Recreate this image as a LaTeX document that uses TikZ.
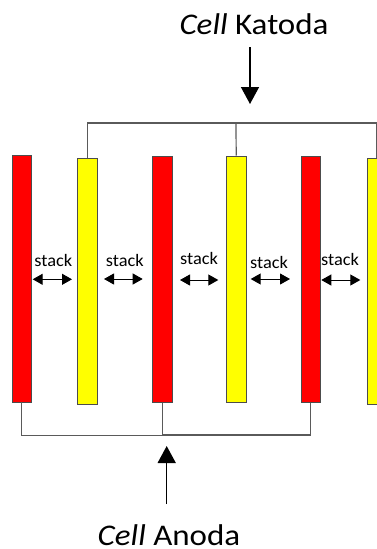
\documentclass[tikz,border=0pt]{standalone}
\usepackage{fontspec}
\setmainfont{Carlito}
\usetikzlibrary{arrows.meta}

\definecolor{platered}{HTML}{FF0000}
\definecolor{plateyellow}{HTML}{FFFF00}
\definecolor{wiregray}{HTML}{5A5A5A}

\newcommand{\widetext}[2]{\scalebox{#1}[1]{#2}}

\tikzset{
  plate/.style={draw=black!70, line width=0.9pt, inner sep=0pt, anchor=north west,
                minimum width=19.5pt, minimum height=246.5pt},
  anode/.style={plate, fill=platered},
  cathode/.style={plate, fill=plateyellow},
  wire/.style={draw=wiregray, line width=1.2pt},
  feed/.style={draw=black, line width=1.5pt, -{Triangle[length=17pt,width=18pt]}},
  gap/.style={draw=black, line width=1pt, {Triangle[length=10pt,width=11pt]}-{Triangle[length=10pt,width=11pt]}},
  title/.style={font=\fontsize{30}{36}\selectfont, anchor=base, inner sep=0pt},
  gaplabel/.style={font=\fontsize{17.5}{21}\selectfont, anchor=base, inner sep=0pt}
}

\begin{document}
\begin{tikzpicture}[x=1pt, y=-1pt]
\useasboundingbox (0,0) rectangle (377,549);

% electrode plates
\node[anode]   (r1) at (11.5,155)   {};
\node[cathode] (y1) at (77,157.5)   {};
\node[anode]   (r2) at (152,155.5)  {};
\node[cathode] (y2) at (226,155.5)  {};
\node[anode]   (r3) at (300.5,155.5) {};
\node[cathode] (y3) at (366.5,157.5) {};

% cathode bus
\coordinate (kbus) at (236,123);
\draw[wire] (y1.north) |- (kbus) -| (y3.north);
\draw[wire] (y2.north) -- (kbus);

% anode bus
\draw[wire] (r1.south) -- ++(0,33) -| (r2.south);
\draw[wire] (r2.south) -- ++(0,32) -| (r3.south);

% terminal labels and feed arrows
\node[title] (kat) at (254,34.3) {\widetext{1.1}{\textit{Cell} Katoda}};
\coordinate (kfrom) at (250,47);
\coordinate (kto)   at (250,104);
\draw[feed] (kfrom) -- (kto);

\node[title] (ano) at (169,545.7) {\widetext{1.1}{\textit{Cell} Anoda}};
\coordinate (afrom) at (166.7,504);
\coordinate (ato)   at (166.7,446);
\draw[feed] (afrom) -- (ato);

% stack spacing markers
\node[gaplabel] (s1) at (53.3,266) {\widetext{1.05}{stack}};
\coordinate (s1a) at (32.7,279.3); \coordinate (s1b) at (72,279.3);
\draw[gap] (s1a) -- (s1b);

\node[gaplabel] (s2) at (124.9,266) {\widetext{1.05}{stack}};
\coordinate (s2a) at (104,279); \coordinate (s2b) at (142.7,279);
\draw[gap] (s2a) -- (s2b);

\node[gaplabel] (s3) at (199,264) {\widetext{1.05}{stack}};
\coordinate (s3a) at (180,280); \coordinate (s3b) at (218.3,280);
\draw[gap] (s3a) -- (s3b);

\node[gaplabel] (s4) at (269,268) {\widetext{1.05}{stack}};
\coordinate (s4a) at (250.7,279); \coordinate (s4b) at (290,279);
\draw[gap] (s4a) -- (s4b);

\node[gaplabel] (s5) at (340,265) {\widetext{1.05}{stack}};
\coordinate (s5a) at (321.3,280); \coordinate (s5b) at (360.3,280);
\draw[gap] (s5a) -- (s5b);
\end{tikzpicture}
\end{document}
